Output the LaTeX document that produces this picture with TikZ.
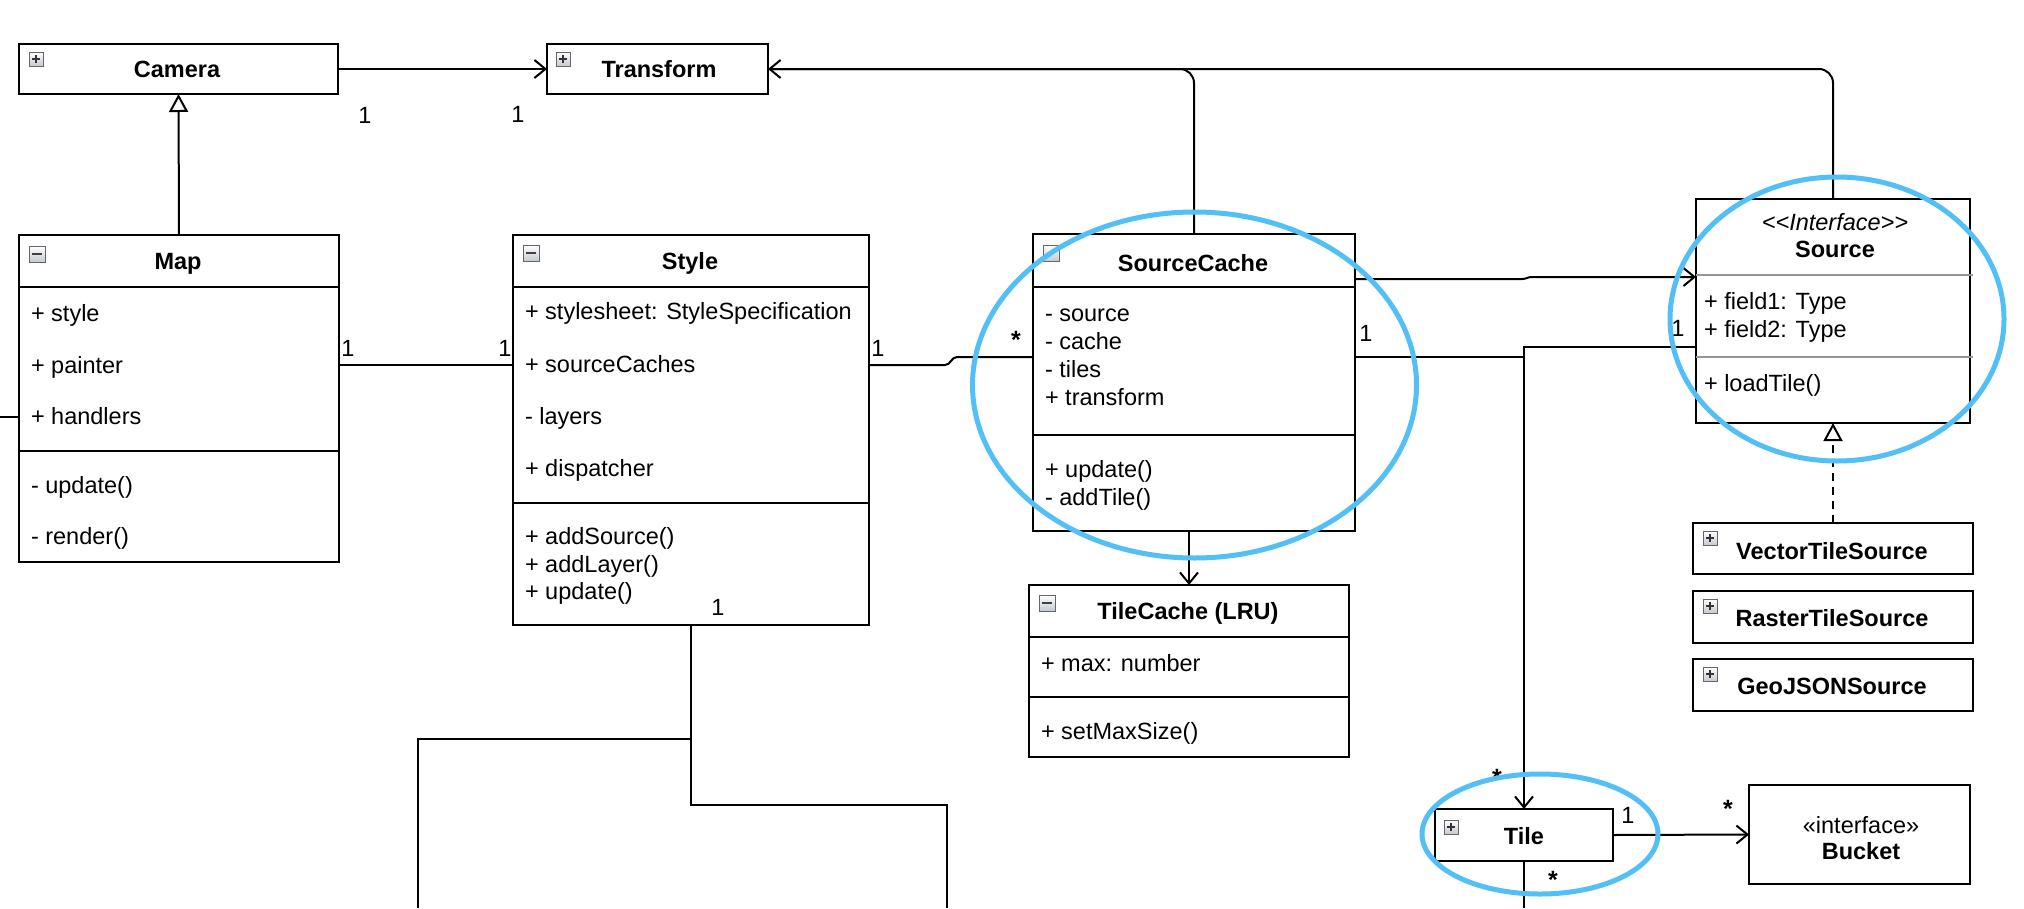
\documentclass[tikz,border=0pt]{standalone}
\usepackage{fontspec}
\setmainfont{Liberation Sans}
\usetikzlibrary{arrows.meta,calc}
\definecolor{hl}{RGB}{82,192,246}
\definecolor{icongray}{RGB}{196,202,210}
\definecolor{divgray}{RGB}{150,150,150}
\newcommand\umlbox[5]{\node[umlbox, minimum width=#4-#2, minimum height=#5-#3] (#1) at (#2,#3) {};}
\newcommand\plusicon[3]{\node[icon] (#1) at (#2,#3) {};
  \draw[line width=1.6pt, black!80] ($(#1.center)+(-4,0)$) -- ($(#1.center)+(4,0)$) ($(#1.center)+(0,-4)$) -- ($(#1.center)+(0,4)$);}
\newcommand\minusicon[3]{\node[icon, minimum size=16pt] (#1) at (#2,#3) {};
  \draw[line width=1.8pt, black!75] ($(#1.center)+(-5,0)$) -- ($(#1.center)+(5,0)$);}
\begin{document}
\begin{tikzpicture}[x=1pt,y=-1pt,
  every node/.style={inner sep=0, outer sep=0},
  font=\fontsize{23.5}{28}\selectfont,
  umlbox/.style={draw, line width=2pt, anchor=north west, fill=white},
  conn/.style={line width=2pt},
  oarrow/.style={-{Straight Barb[length=11pt,width=18pt]}},
  inh/.style={-{Triangle[open,length=18pt,width=19pt]}},
  txt/.style={anchor=mid west, yshift=-4pt},
  ttl/.style={anchor=center, yshift=-1.5pt, font=\fontsize{23.5}{28}\selectfont\bfseries},
  lbl/.style={anchor=center},
  star/.style={anchor=center, yshift=-3pt, font=\fontsize{25}{28}\selectfont\bfseries},
  icon/.style={draw=gray!80!black, line width=0.8pt, top color=white, bottom color=icongray, minimum size=14pt},
  hlring/.style={draw=hl, line width=5pt}]
\useasboundingbox (0,0) rectangle (2024,908);
\fill[white] (0,0) rectangle (2024,908);

% ---------- boxes ----------
\umlbox{Camera}{19}{44}{338}{94}
\umlbox{Transform}{547}{44}{768}{94}
\umlbox{Map}{19}{235}{339}{562}
\umlbox{Style}{513}{235}{869}{625}
\umlbox{SourceCache}{1033}{234}{1355}{531}
\umlbox{Source}{1696}{199}{1970}{423}
\umlbox{TileCache}{1029}{585}{1349}{757}
\umlbox{VTS}{1693}{523}{1973}{574}
\umlbox{RTS}{1693}{591}{1973}{643}
\umlbox{GJS}{1693}{659}{1973}{711}
\umlbox{Tile}{1435}{809}{1613}{861}
\umlbox{Bucket}{1749}{785}{1970}{884}

% compartment dividers
\draw[conn] (19,287) -- (339,287) (19,451) -- (339,451);
\draw[conn] (513,287) -- (869,287) (513,503) -- (869,503);
\draw[conn] (1033,287) -- (1355,287) (1033,435) -- (1355,435);
\draw[conn] (1029,637) -- (1349,637) (1029,697) -- (1349,697);
\draw[line width=2pt, divgray] (1696,275) -- (1973,275) (1696,357) -- (1973,357);

% ---------- icons ----------
\plusicon{iCam}{36}{59}
\plusicon{iTr}{563}{59}
\minusicon{iMap}{37}{254}
\minusicon{iSty}{531}{253}
\node[icon, minimum size=16pt] (iSC) at (1051,253) {};
\minusicon{iTC}{1047}{603}
\plusicon{iVTS}{1710}{538}
\plusicon{iRTS}{1710}{606}
\plusicon{iGJS}{1710}{674}
\plusicon{iTile}{1451}{827}

% ---------- texts ----------
\node[ttl] (tCam) at (177,68) {Camera};
\node[ttl] (tTr) at (659,68) {Transform};
\node[ttl] (tMap) at (178,262) {Map};
\node[txt] (m1) at (31,315) {+ style};
\node[txt] (m2) at (31,367) {+ painter};
\node[txt] (m3) at (31,418) {+ handlers};
\node[txt] (m4) at (31,487) {- update()};
\node[txt] (m5) at (31,538) {- render()};

\node[ttl] (tSty) at (690,262) {Style};
\node[txt] (s1) at (525,313) {+ stylesheet: StyleSpecification};
\node[txt] (s2) at (525,366) {+ sourceCaches};
\node[txt] (s3) at (525,418) {- layers};
\node[txt] (s4) at (525,470) {+ dispatcher};
\node[txt] (s5) at (525,538) {+ addSource()};
\node[txt] (s6) at (525,566) {+ addLayer()};
\node[txt] (s7) at (525,593) {+ update()};

\node[ttl] (tSC) at (1193,262) {SourceCache};
\node[txt] (c1) at (1045,315) {- source};
\node[txt] (c2) at (1045,343) {- cache};
\node[txt] (c3) at (1045,371) {- tiles};
\node[txt] (c4) at (1045,399) {+ transform};
\node[txt] (c5) at (1045,471) {+ update()};
\node[txt] (c6) at (1045,499) {- addTile()};

\node[anchor=center, yshift=-2pt, font=\fontsize{23.5}{28}\selectfont\itshape] (tSi) at (1835,220) {<\kern0pt<Interface>\kern0pt>};
\node[ttl] (tSrc) at (1835,248) {Source};
\node[txt] (r1) at (1704,303) {+ field1: Type};
\node[txt] (r2) at (1704,331) {+ field2: Type};
\node[txt] (r3) at (1704,385) {+ loadTile()};

\node[ttl] (tTC) at (1188,612) {TileCache (LRU)};
\node[txt] (tc1) at (1041,665) {+ max: number};
\node[txt] (tc2) at (1041,733) {+ setMaxSize()};

\node[ttl] (tVTS) at (1832,550) {VectorTileSource};
\node[ttl] (tRTS) at (1832,617) {RasterTileSource};
\node[ttl] (tGJS) at (1832,685) {GeoJSONSource};
\node[ttl] (tTile) at (1524,835) {Tile};
\node[anchor=center, yshift=-2pt] (tBi) at (1861,823) {«interface»};
\node[ttl] (tBu) at (1861,850) {Bucket};

% ---------- connectors ----------
\coordinate (y365) at (0,365);
\coordinate (y357) at (0,357);
\coordinate (y279) at (0,279);
\coordinate (y277) at (0,277);
\coordinate (y347) at (0,347);
\coordinate (lftedge) at (0,417);
\coordinate (tilebot) at (1524,908);
\coordinate (sb1) at (947,908);
\coordinate (sb2) at (418,908);

\draw[conn, oarrow] (Camera.east) -- (Transform.west);
\draw[conn, inh] (Map.north) -- (Camera.south);
\draw[conn] (lftedge) -- (Map.west |- lftedge);
\draw[conn] (Map.east |- y365) -- (Style.west |- y365);
\draw[conn] (Style.east |- y365) -- (945,365) .. controls (951,365) and (951,357) .. (957,357) -- (SourceCache.west |- y357);
\draw[conn, oarrow] (SourceCache.east |- y279) -- (1522,279) .. controls (1527,279) and (1527,277) .. (1532,277) -- (Source.west |- y277);
\draw[conn, oarrow] (SourceCache.east |- y357) -| (Tile.north);
\draw[conn] (Source.west |- y347) -| (Tile.north);
\draw[conn, oarrow, rounded corners=14pt] (SourceCache.north) |- (Transform.east);
\draw[conn, rounded corners=14pt] (Source.north) |- (Transform.east);
\draw[conn, oarrow] (SourceCache.south -| TileCache.north) -- (TileCache.north);
\draw[conn, dash pattern=on 8pt off 6pt, inh] (VTS.north) -- (Source.south);
\draw[conn, oarrow] (Tile.east) -- (Bucket.west);
\draw[conn] (Tile.south) -- (tilebot);
\draw[conn] (Style.south) -- ++(0,180) -| (sb1);
\draw[conn] (Style.south) ++(0,114) -| (sb2);

% ---------- multiplicities ----------
\node[lbl] (l1) at (365,115) {1};
\node[lbl] (l2) at (518,114) {1};
\node[lbl] (l3) at (348,348) {1};
\node[lbl] (l4) at (505,348) {1};
\node[lbl] (l5) at (878,348) {1};
\node[star] (l6) at (1016,337) {*};
\node[lbl] (l7) at (1366,333) {1};
\node[lbl] (l8) at (1678,328) {1};
\node[lbl] (l9) at (718,607) {1};
\node[star] (l10) at (1497,775) {*};
\node[lbl] (l11) at (1628,815) {1};
\node[star] (l12) at (1728,806) {*};
\node[star] (l13) at (1553,877) {*};

% ---------- highlight rings ----------
\draw[hlring] (1194.5,385) ellipse [x radius=222, y radius=173];
\draw[hlring] (1837,319) ellipse [x radius=167, y radius=142];
\draw[hlring] (1540,834) ellipse [x radius=118, y radius=60];
\end{tikzpicture}
\end{document}
